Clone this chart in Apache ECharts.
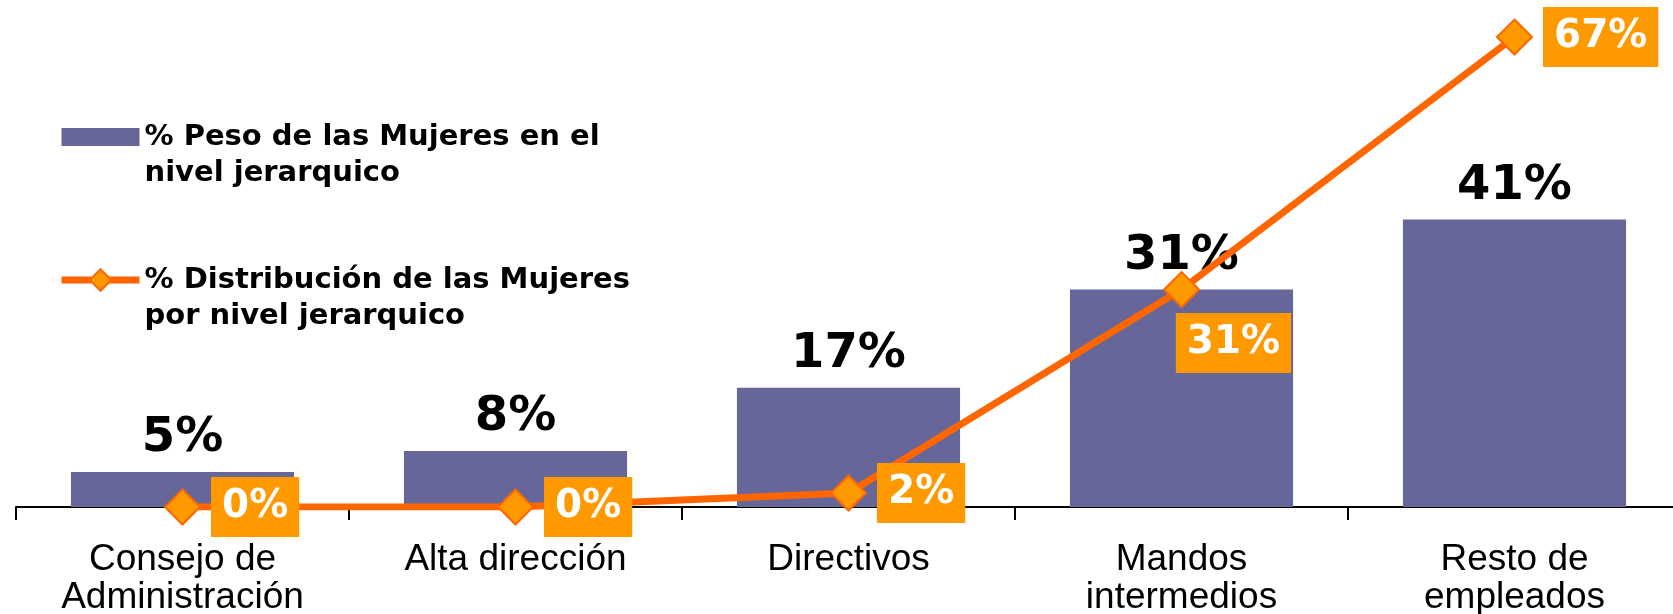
<!DOCTYPE html>
<html lang="es">
<head>
  <meta charset="UTF-8">
  <title>Mujeres por nivel jerárquico</title>
  <style>
    * {
      margin: 0;
      padding: 0;
    }

    html, body {
      width: 1673px;
      height: 614px;
      background: #fff;
      overflow: hidden;
    }

    #chart {
      width: 1673px;
      height: 614px;
    }
  </style>
</head>
<body>
  <div id="chart"></div>

  <script src="https://cdn.jsdelivr.net/npm/echarts@6/dist/echarts.min.js"></script>
  <script>
    const niveles = ['Consejo de\nAdministración', 'Alta dirección', 'Directivos', 'Mandos\nintermedios', 'Resto de\nempleados'];
    const pesoMujeres = [5, 8, 17, 31, 41];
    const distribucionMujeres = [0, 0, 2, 31, 67];

    const nombrePeso = '% Peso de las Mujeres en el\nnivel jerarquico';
    const nombreDistribucion = '% Distribución de las Mujeres\npor nivel jerarquico';

    const chart = echarts.init(document.getElementById('chart'));

    // the 31% point has its box below the marker, the rest sit to the right
    const lineData = distribucionMujeres.map((v, i) => {
      if (i === 3) {
        return { value: v, label: { position: 'bottom', distance: 5, offset: [52, 0] } };
      }
      return v;
    });

    const option = {
      animation: false,
      legend: {
        orient: 'vertical',
        left: 58,
        top: 83,
        padding: 0,
        itemWidth: 78,
        itemHeight: 27,
        itemGap: 35,
        symbolKeepAspect: true,
        // blank first line so the icon lines up with the first text line
        formatter: name => ' \n' + name,
        textStyle: {
          fontFamily: 'DejaVu Sans',
          fontWeight: 'bold',
          fontSize: 29,
          lineHeight: 36,
          color: '#000'
        },
        data: [
          { name: nombrePeso, icon: 'path://M0,0H78V18H0Z' },
          { name: nombreDistribucion, lineStyle: { width: 7 } }
        ]
      },
      grid: {
        left: 16,
        top: 16,
        width: 1665,
        bottom: 107,
        outerBoundsMode: 'none'
      },
      xAxis: {
        type: 'category',
        data: niveles,
        axisLine: { lineStyle: { color: '#000', width: 2 } },
        axisTick: { show: true, length: 13, lineStyle: { color: '#000', width: 2 } },
        axisLabel: {
          interval: 0,
          margin: 34,
          fontFamily: 'Liberation Sans',
          fontSize: 37,
          lineHeight: 38,
          color: '#000'
        }
      },
      yAxis: {
        type: 'value',
        min: 0,
        max: 70,
        show: false
      },
      series: [
        {
          name: nombrePeso,
          type: 'bar',
          barWidth: '67%',
          data: pesoMujeres,
          itemStyle: { color: '#666699' },
          label: {
            show: true,
            position: 'top',
            distance: 9,
            formatter: '{c}%',
            fontFamily: 'DejaVu Sans',
            fontWeight: 'bold',
            fontSize: 48,
            color: '#000'
          }
        },
        {
          name: nombreDistribucion,
          type: 'line',
          data: lineData,
          symbol: 'diamond',
          symbolSize: 35,
          lineStyle: { color: '#FF6600', width: 7 },
          itemStyle: { color: '#FF9900', borderColor: '#FF6600', borderWidth: 2 },
          label: {
            show: true,
            position: 'right',
            distance: 10,
            formatter: '{c}%',
            fontFamily: 'DejaVu Sans',
            fontWeight: 'bold',
            fontSize: 39,
            lineHeight: 38,
            color: '#fff',
            backgroundColor: '#FF9900',
            padding: [11, 11]
          },
          z: 3
        }
      ]
    };

    chart.setOption(option);
  </script>
</body>
</html>
